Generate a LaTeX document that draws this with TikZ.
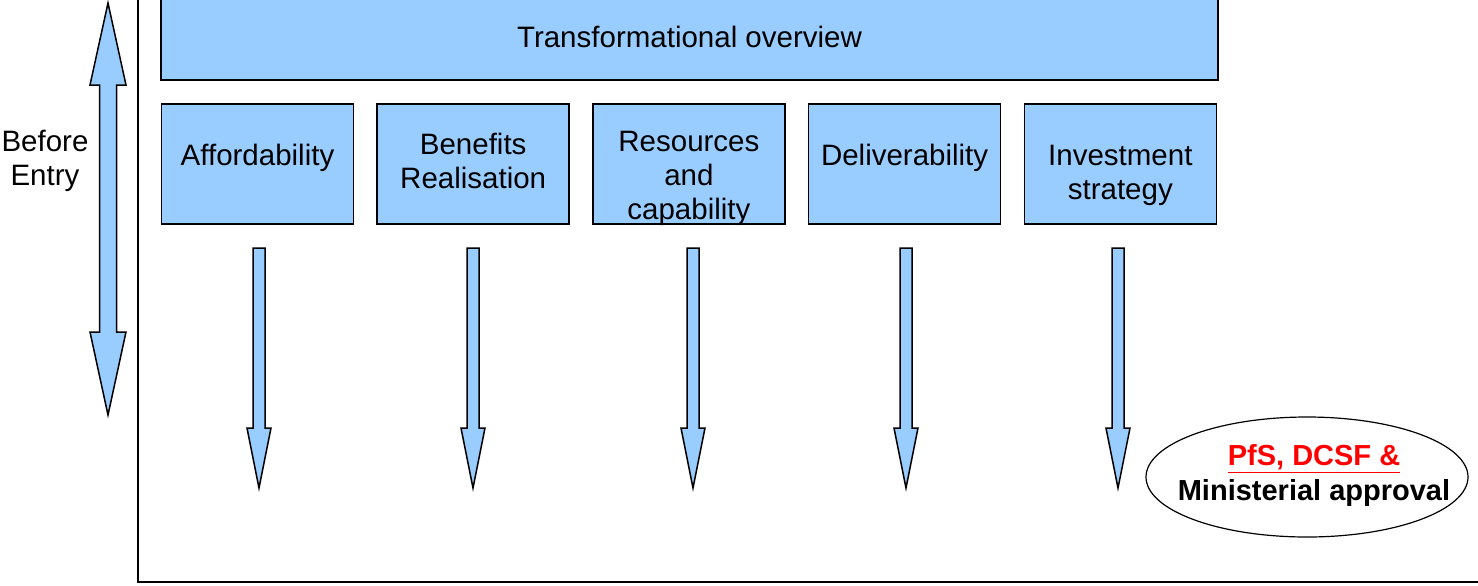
\documentclass[tikz,border=0pt]{standalone}
\usepackage{fontspec}
\setmainfont{Liberation Sans}
\usetikzlibrary{positioning,shapes.geometric}
\definecolor{boxblue}{HTML}{99CCFF}
\tikzset{
  box/.style = {draw, line width=.75pt, fill=boxblue, minimum width=96pt, minimum height=60pt, inner sep=0pt},
  boxtext/.style = {align=center, font=\fontsize{14.75}{17}\selectfont},
  blockarrow/.style = {draw, line width=.75pt, fill=boxblue, line join=miter},
  downarrow/.pic = {
    \draw[blockarrow] (-6,0) -- (6,0) -- (6,180) -- (12,180) -- (0,240) -- (-12,180) -- (-6,180) -- cycle;
  }
}
\begin{document}
\begin{tikzpicture}[x = .5pt, y = -.5pt]
	\useasboundingbox (0,0) rectangle (1478,585);
	\clip (0,0) rectangle (1478,585);
	% frame
	\draw[line width=1pt] (138,-10) -- (138,582) -- (1490,582);
	% before entry
	\draw[blockarrow] (108,3) -- (126,85) -- (116.5,85) -- (116.5,332) -- (126,332) -- (108,415)
		-- (90,332) -- (99.5,332) -- (99.5,85) -- (90,85) -- cycle;
	\node[boxtext] (before) at (45,160.5) {Before\\Entry};
	% top box
	\node[box, boxtext, minimum width=528.5pt, minimum height=44pt] (overview) at (689.5,36) {};
	\node[boxtext] (overviewtext) at (689.5,37) {Transformational overview};
	% the five boxes
	\node[box] (afford) at (257.5,164) {};
	\node[box, right=11.1pt of afford] (benefits) {};
	\node[box, right=11.1pt of benefits] (resources) {};
	\node[box, right=11.1pt of resources] (deliver) {};
	\node[box, right=11.1pt of deliver] (invest) {};
	\node[boxtext, yshift=3pt] (affordtext) at (afford) {Affordability};
	\node[boxtext, yshift=1.5pt] (benefitstext) at (benefits) {Benefits\\Realisation};
	\node[boxtext, yshift=-7pt] (resourcestext) at (resources) {Resources\\and\\capability};
	\node[boxtext, yshift=3pt] (delivertext) at (deliver) {Deliverability};
	\node[boxtext, yshift=-5.75pt] (investtext) at (invest) {Investment\\strategy};
	% arrows down
	\pic (arrafford) at (259,248) {downarrow};
	\pic (arrbenefits) at (473,248) {downarrow};
	\pic (arrresources) at (693,248) {downarrow};
	\pic (arrdeliver) at (906,248) {downarrow};
	\pic (arrinvest) at (1118,248) {downarrow};
	% approval
	\node[ellipse, draw, line width=.6pt, minimum width=161pt, minimum height=60pt, inner sep=0pt] (approval) at (1307,477) {};
	\node[boxtext, font=\fontsize{14.5}{17.5}\selectfont\bfseries] (approvaltext) at (1314,475.5)
		{\textcolor{red}{\underline{PfS, DCSF \&}}\\Ministerial approval};
\end{tikzpicture}
\end{document}
